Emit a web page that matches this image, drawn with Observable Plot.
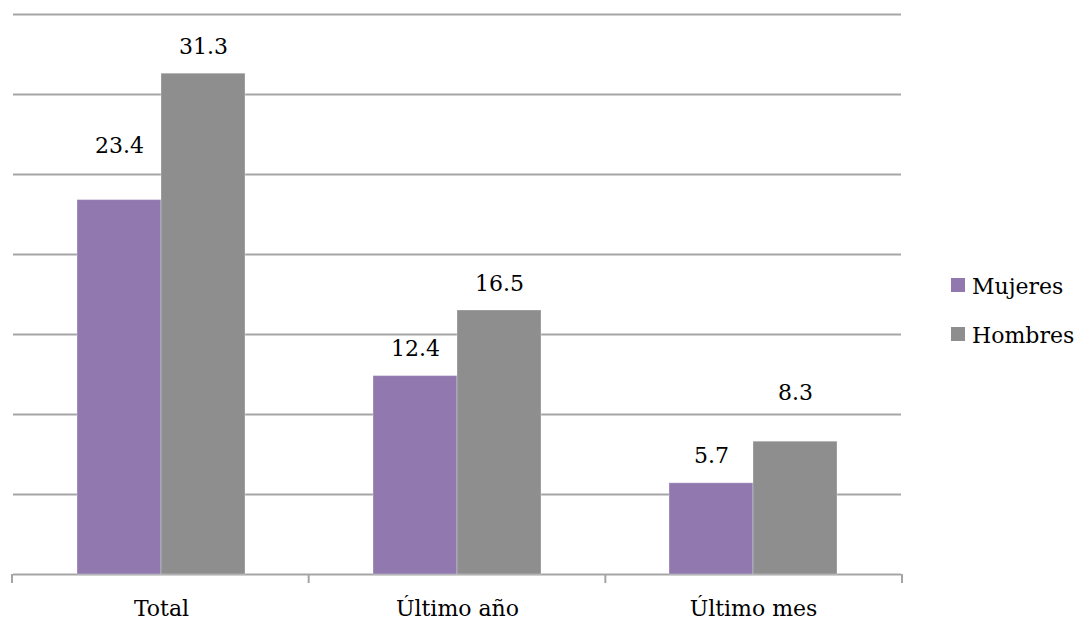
<!DOCTYPE html>
<html>
<head>
<meta charset="utf-8">
<script src="https://cdn.jsdelivr.net/npm/d3@7"></script>
<script src="https://cdn.jsdelivr.net/npm/@observablehq/plot@0.6"></script>
<style>
  body { margin: 0; background: #fff; font-family: "DejaVu Serif", serif; }
  #wrap { position: relative; width: 1078px; height: 620px; }
  #legend { position: absolute; left: 951px; top: 262px; font-size: 22px; color: #000; }
  #legend .item { display: flex; align-items: center; height: 49px; }
  #legend .sw { width: 14px; height: 14px; margin-right: 7px; margin-top: -4px; }
</style>
</head>
<body>
<div id="wrap"><div id="legend"></div></div>
<script>
// Prevalencia por sexo y periodo
const categories = ["Total", "Último año", "Último mes"];
const seriesNames = ["Mujeres", "Hombres"];
const mujeres = [23.4, 12.4, 5.7];
const hombres = [31.3, 16.5, 8.3];
const gridValues = [0, 5, 10, 15, 20, 25, 30, 35];
const colors = ["#9179AF", "#8E8E8E"];

const rows = categories.flatMap((c, i) => [
  {categoria: c, sexo: "Mujeres", valor: mujeres[i]},
  {categoria: c, sexo: "Hombres", valor: hombres[i]}
]);

// Labels moved up above a gridline get extra lift
const lift = {"Total|Mujeres": 27, "Último mes|Hombres": 22};
const labelGap = d => 20 + (lift[d.categoria + "|" + d.sexo] || 0);

const labelMarks = d3.groups(rows, labelGap).map(([gap, rs]) =>
  Plot.text(rs, {
    fx: "categoria", x: "sexo", y: "valor",
    text: d => d.valor.toFixed(1),
    lineAnchor: "bottom", dy: -gap,
    fontSize: 22, fill: "#000"
  })
);

const chart = Plot.plot({
  width: 1078,
  height: 620,
  marginTop: 14,
  marginBottom: 46,
  marginLeft: 12,
  marginRight: 176,
  style: {fontFamily: "DejaVu Serif", fontSize: "22px", color: "#000", background: "transparent"},
  fx: {domain: categories, padding: 0, label: null},
  x: {domain: seriesNames, paddingInner: 0, paddingOuter: 0.745, axis: null},
  y: {domain: [0, 35], axis: null},
  color: {domain: seriesNames, range: colors},
  marks: [
    Plot.ruleY(gridValues, {stroke: "#A5A5A5", strokeWidth: 2}),
    Plot.barY(rows, {
      fx: "categoria", x: "sexo", y: "valor", fill: "sexo",
      stroke: "#fff", strokeOpacity: 0.3, strokeWidth: 1
    }),
    ...labelMarks,
    Plot.axisFx({anchor: "bottom", tickSize: 0, tickPadding: 26, fontSize: 22, label: null})
  ]
});

// Category boundary ticks under the baseline, taken from the fx and y scales
{
  const fx = chart.scale("fx");
  const y = chart.scale("y");
  const [r0, r1] = fx.range;
  const step = (r1 - r0) / fx.domain.length;
  const y0 = y.range[0];
  const edges = d3.range(fx.domain.length + 1).map(i => r0 + i * step);
  d3.select(chart).append("g")
    .attr("stroke", "#A5A5A5").attr("stroke-width", 2)
    .selectAll("line").data(edges).join("line")
    .attr("x1", d => d).attr("x2", d => d)
    .attr("y1", y0).attr("y2", y0 + 9);
}

document.getElementById("wrap").prepend(chart);

// Legend
const legend = d3.select("#legend");
seriesNames.forEach((s, i) => {
  const item = legend.append("div").attr("class", "item");
  item.append("div").attr("class", "sw").style("background", colors[i]);
  item.append("span").text(s);
});
</script>
</body>
</html>
